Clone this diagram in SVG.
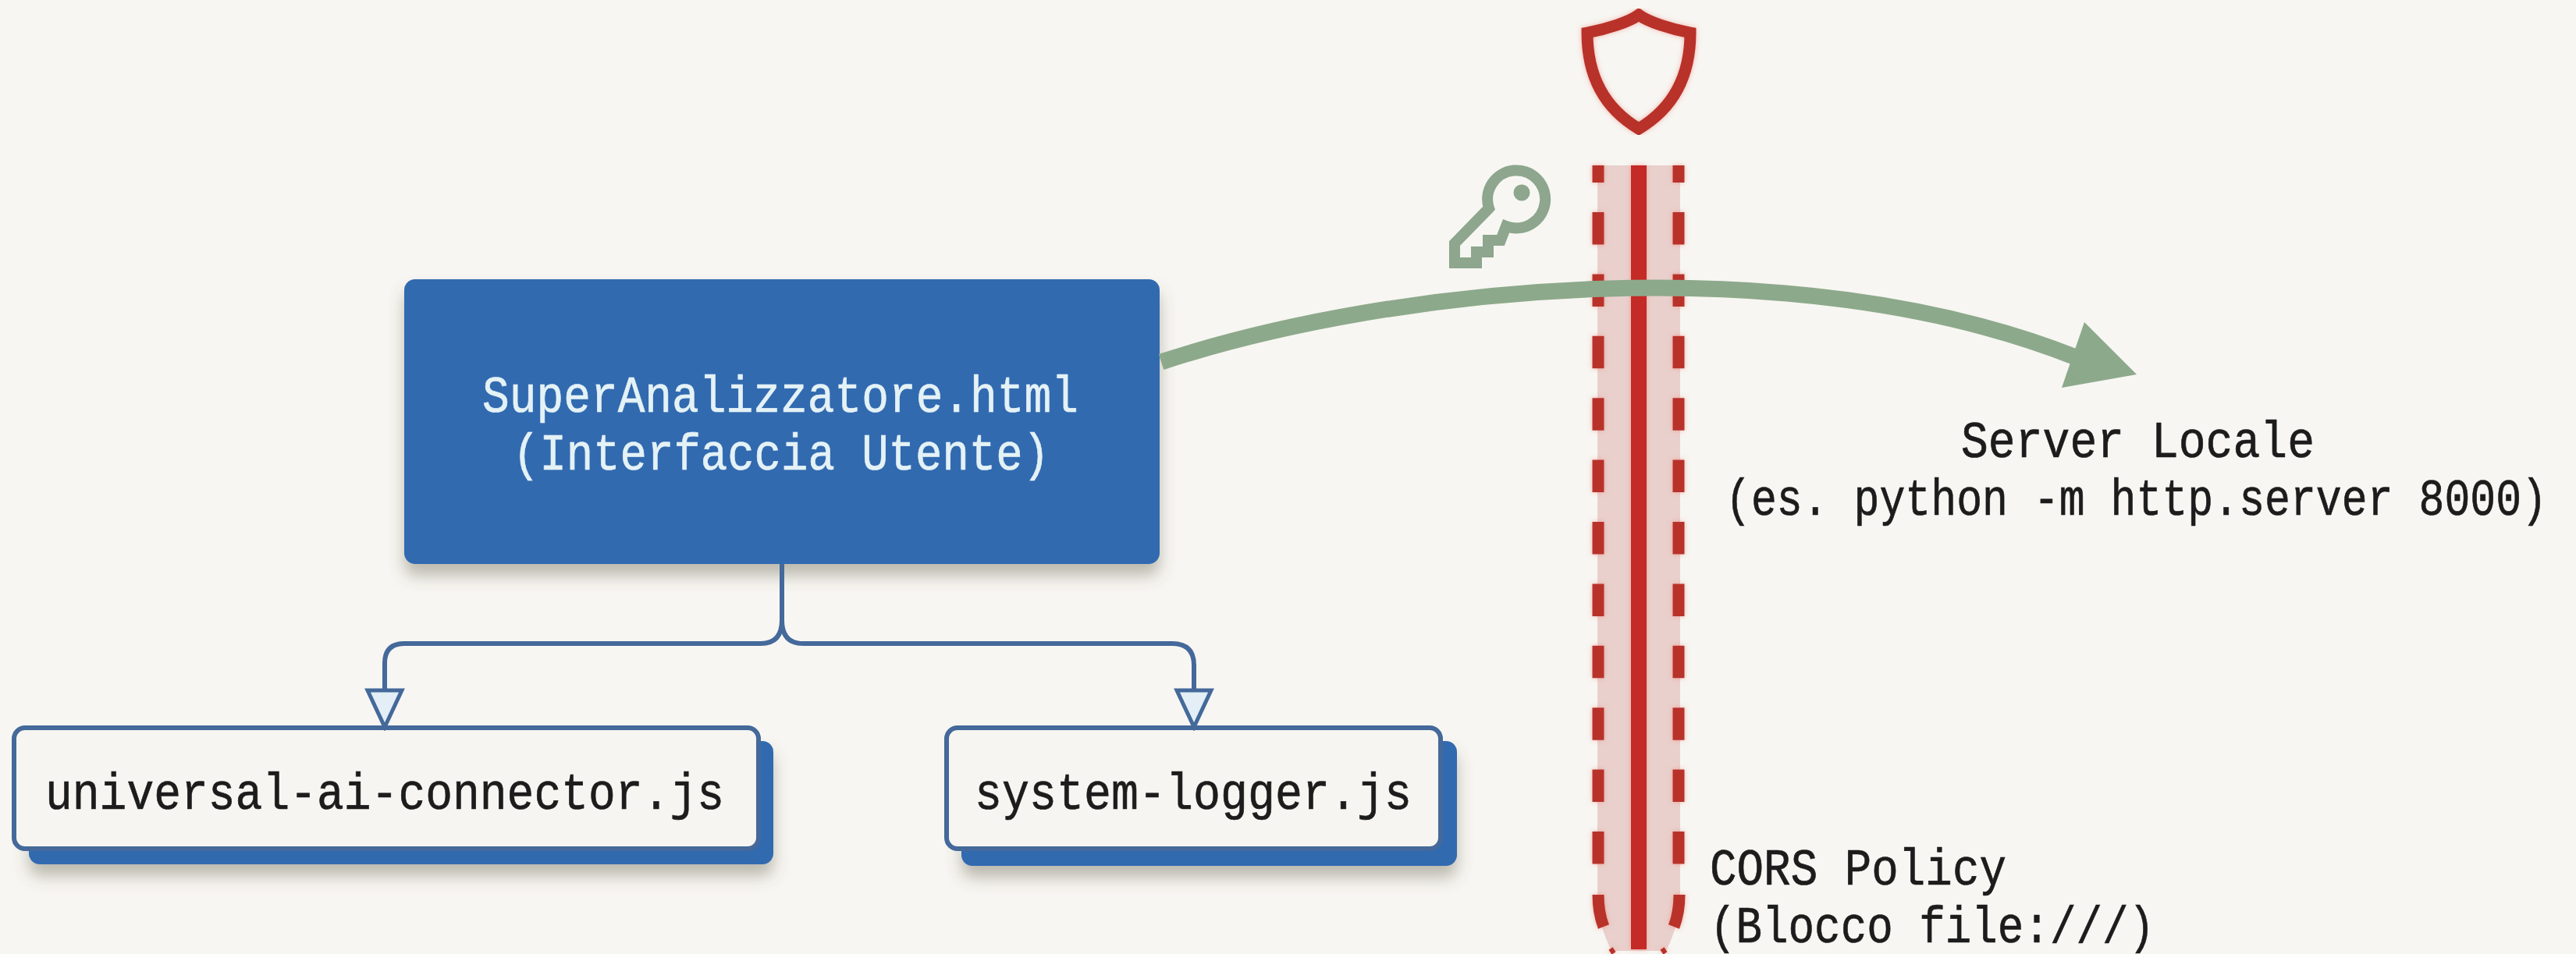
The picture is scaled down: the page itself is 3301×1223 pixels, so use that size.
<svg xmlns="http://www.w3.org/2000/svg" width="3301" height="1223" viewBox="0 0 3301 1223">
<defs>
<style>
.mono{font-family:"Liberation Mono","DejaVu Sans Mono",monospace;font-size:67px;fill:#1c1c1c;stroke:#1c1c1c;stroke-width:.7px}
.light{fill:#e4f2f6;stroke:#e4f2f6}
.file{fill:#f6f5f1;stroke:#44699a;stroke-width:6}
.back{fill:#316ab0}
.wire{fill:none;stroke:#44699a;stroke-width:6}
.dash{fill:none;stroke:#b8302c;stroke-width:15}
</style>
<filter id="soft" x="-10%" y="-15%" width="120%" height="140%"><feDropShadow dx="0" dy="15" stdDeviation="10" flood-color="#5c5440" flood-opacity="0.38"/></filter>
<filter id="glow" x="-30%" y="-5%" width="160%" height="110%"><feDropShadow dx="0" dy="0" stdDeviation="3" flood-color="#f0776c" flood-opacity="0.55"/></filter>
<marker id="open" viewBox="-4 -27 56 54" refX="47" refY="0" markerWidth="56" markerHeight="54" markerUnits="userSpaceOnUse" orient="auto"><path d="M0 -22 L47 0 L0 22 Z" fill="#e3eef6" stroke="#44699a" stroke-width="5"/></marker>
</defs>
<rect width="3301" height="1223" fill="#f7f6f2"/>
<g id="cors-barrier">
<path d="M2047 212 H2153 V1150 Q2152 1185 2135 1219 H2065 Q2048 1185 2047 1150 Z" fill="#e9d0cc"/>
<g filter="url(#glow)">
<rect x="2090" y="212" width="20" height="1005" fill="#c42a26"/>
<path class="dash" d="M2048 212 V1110" stroke-dasharray="41.5 37.9" stroke-dashoffset="19.4"/>
<path class="dash" d="M2151 212 V1110" stroke-dasharray="41.5 37.9" stroke-dashoffset="19.4"/>
<path class="dash" d="M2048 1147 Q2048 1170 2055 1188"/>
<path class="dash" d="M2152 1147 Q2152 1170 2145 1188"/>
<path d="M2064 1216 L2068 1222 M2130 1216 L2134 1222" stroke="#b8302c" stroke-width="6" fill="none"/>
</g>
</g>
<g id="shield"><path d="M2100 19 C2088 28 2060 37 2034 42 C2034 100 2058 140 2100 165 C2142 140 2166 100 2166 42 C2140 37 2112 28 2100 19 Z" fill="none" stroke="#b8302a" stroke-width="15" filter="url(#glow)"/></g>
<g id="key">
<path d="M1908 267 L1864 312 V337 H1892 V323 H1907 V308 H1923 L1930 290 A37 37 0 1 0 1908 267 Z" fill="none" stroke="#8da68d" stroke-width="14"/>
<circle cx="1950" cy="247" r="10.500" fill="#8da68d"/>
</g>
<g id="superanalizzatore">
<rect x="518" y="358" width="968" height="365" rx="14" fill="#316ab0" filter="url(#soft)"/>
<text class="mono light" x="618" y="528" textLength="764" lengthAdjust="spacingAndGlyphs">SuperAnalizzatore.html</text>
<text class="mono light" x="657" y="602" textLength="688" lengthAdjust="spacingAndGlyphs">(Interfaccia Utente)</text>
</g>
<g id="universal-ai-connector">
<rect class="back" x="37" y="950" width="954" height="158" rx="14" filter="url(#soft)"/>
<rect class="file" x="18" y="933" width="954" height="155" rx="14"/>
<text class="mono" x="58" y="1037" textLength="870" lengthAdjust="spacingAndGlyphs">universal-ai-connector.js</text>
</g>
<g id="system-logger">
<rect class="back" x="1232" y="950" width="635" height="160" rx="14" filter="url(#soft)"/>
<rect class="file" x="1213" y="933" width="633" height="155" rx="14"/>
<text class="mono" x="1249" y="1037" textLength="560" lengthAdjust="spacingAndGlyphs">system-logger.js</text>
</g>
<g id="connectors">
<path class="wire" d="M1002 723 V795 Q1002 825 975 825 H518 Q493 825 493 850 V932" marker-end="url(#open)"/>
<path class="wire" d="M1002 795 Q1002 825 1029 825 H1502 Q1530 825 1530 853 V932" marker-end="url(#open)"/>
<path d="M1488 464 C1790 365 2300 315 2660 458" fill="none" stroke="#8da98b" stroke-width="21"/>
<path d="M2671 413 L2738 480 L2642 497 Z" fill="#8da98b"/>
</g>
<g id="server-locale">
<text class="mono" x="2513" y="586" textLength="453" lengthAdjust="spacingAndGlyphs">Server Locale</text>
<text class="mono" x="2211" y="660" textLength="1053" lengthAdjust="spacingAndGlyphs">(es. python -m http.server 8000)</text>
</g>
<g id="cors-label">
<text class="mono" x="2191" y="1134" textLength="380" lengthAdjust="spacingAndGlyphs">CORS Policy</text>
<text class="mono" x="2191" y="1208" textLength="570" lengthAdjust="spacingAndGlyphs">(Blocco file:///)</text>
</g>
</svg>
